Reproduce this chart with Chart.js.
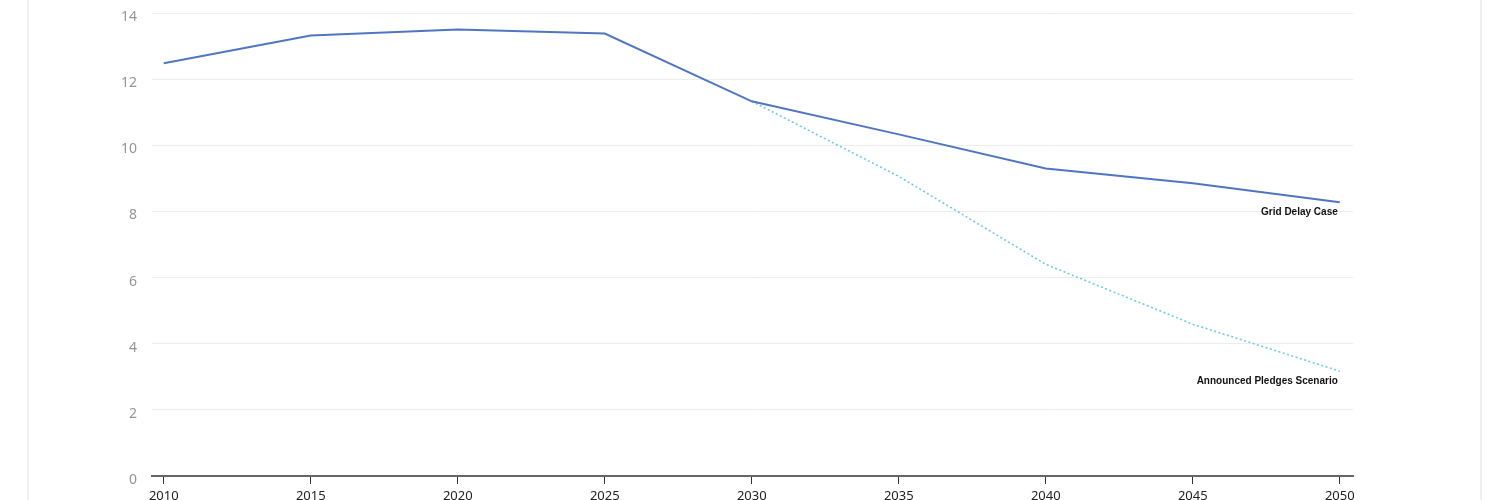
<!DOCTYPE html>
<html lang="en">
<head>
    <script src="https://cdn.jsdelivr.net/npm/chart.js@4"></script>
    <meta charset="UTF-8">
    <title>Grid Delay Case</title>
    <style>
        body { margin: 0; background: #ffffff; }
        #carte { position: absolute; left: 27px; top: -10px; width: 1451px; height: 530px;
                 border-left: 2px solid #efefef; border-right: 2px solid #efefef; }
        #monGraphique { position: absolute; left: 0; top: 0; }
    </style>
</head>
<body>
<div id="carte"></div>
<canvas id="monGraphique" width="1500" height="500"></canvas>

<script>
    // données
    let annees = [2010, 2015, 2020, 2025, 2030, 2035, 2040, 2045, 2050];
    let gridDelay = [12.48, 13.32, 13.5, 13.38, 11.33, 10.33, 9.3, 8.85, 8.28];
    let pledges = [null, null, null, null, 11.33, 9.06, 6.4, 4.59, 3.17];
    let ticksY = [0, 2, 4, 6, 8, 10, 12, 14];
    let nomsSeries = ['Grid Delay Case', 'Announced Pledges Scenario'];

    let versPoints = (valeurs) => annees.map((a, i) => ({ x: a, y: valeurs[i] }));

    // étiquette au bout de chaque courbe
    let etiquettes = {
        id: 'etiquettes',
        afterDatasetsDraw(chart) {
            let ctx = chart.ctx;
            ctx.save();
            ctx.font = 'bold 10px "Liberation Sans", Arial, sans-serif';
            ctx.fillStyle = '#111';
            ctx.textAlign = 'right';
            ctx.textBaseline = 'middle';
            chart.data.datasets.forEach((ds, i) => {
                let pts = chart.getDatasetMeta(i).data;
                let dernier = pts[pts.length - 1];
                ctx.fillText(nomsSeries[i], dernier.x - 2, dernier.y + 10);
            });
            ctx.restore();
        }
    };

    function construitGraphique() {
        let content = document.querySelector('#monGraphique').getContext('2d');
        return new Chart(content, {
            type: 'line',
            data: {
                datasets: [{
                    label: nomsSeries[0],
                    data: versPoints(gridDelay),
                    borderColor: '#4f76c0',
                    borderWidth: 2,
                    pointRadius: 0,
                    tension: 0
                }, {
                    label: nomsSeries[1],
                    data: versPoints(pledges),
                    borderColor: '#6ccbe6',
                    borderWidth: 1.6,
                    borderDash: [2, 2.5],
                    pointRadius: 0,
                    spanGaps: false,
                    tension: 0
                }]
            },
            options: {
                responsive: false,
                animation: false,
                layout: { padding: { top: 13, right: 147, left: 0, bottom: 0 } },
                plugins: { legend: { display: false }, tooltip: { enabled: false } },
                scales: {
                    x: {
                        type: 'linear',
                        min: 2009.6,
                        max: 2050.45,
                        afterBuildTicks: (scale) => { scale.ticks = annees.filter(a => a % 5 === 0).map(a => ({ value: a })); },
                        afterFit: (scale) => { scale.height = 24; scale.paddingLeft = 0; scale.paddingRight = 0; },
                        border: { display: true, color: '#666', width: 2 },
                        grid: { drawOnChartArea: false, drawTicks: true, tickLength: 8, color: '#333', lineWidth: 1 },
                        ticks: {
                            color: '#222',
                            padding: 4,
                            maxRotation: 0,
                            font: { family: '"Noto Sans", sans-serif', size: 13 },
                            callback: (v) => String(v)
                        }
                    },
                    y: {
                        min: 0,
                        max: 14,
                        afterBuildTicks: (scale) => { scale.ticks = ticksY.map(v => ({ value: v })); },
                        afterFit: (scale) => { scale.width = 152; scale.paddingTop = 0; scale.paddingBottom = 0; },
                        border: { display: false },
                        grid: { color: '#ececec', lineWidth: 1, drawTicks: false },
                        ticks: {
                            color: '#959595',
                            padding: 15,
                            labelOffset: 4,
                            font: { family: '"Noto Sans", sans-serif', size: 14 }
                        }
                    }
                }
            },
            plugins: [etiquettes]
        });
    }

    construitGraphique();
</script>
</body>
</html>
